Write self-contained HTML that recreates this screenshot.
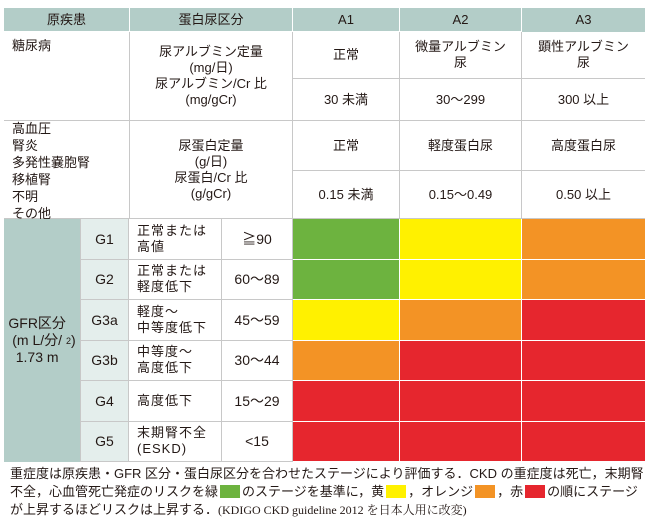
<!DOCTYPE html>
<html><head><meta charset="utf-8">
<style>
body{margin:0;width:647px;height:518px;background:#fff;font-family:"Liberation Sans","Noto Sans CJK JP",sans-serif;color:#231815;position:relative;overflow:hidden}
.c{position:absolute;box-sizing:border-box;display:flex;align-items:center;justify-content:center;text-align:center;font-size:13px;line-height:16px}
.l{justify-content:flex-start;text-align:left;padding-left:8px}
.hd{background:#b3cdc8;}
.gl{background:#e4eeec}
.b{border-right:1px solid #c8c8c8;border-bottom:1px solid #c8c8c8}
.foot{position:absolute;left:10px;top:465px;font-size:13px;line-height:18px;width:635px}
.sw{display:inline-block;width:20px;height:13px;vertical-align:-2px;margin:0 2px}
</style></head><body>
<div>
<div class="c hd b" style="left:4px;top:8px;width:126px;height:24px;border-color:#fff">原疾患</div>
<div class="c hd b" style="left:130px;top:8px;width:163px;height:24px;border-color:#fff">蛋白尿区分</div>
<div class="c hd b" style="left:293px;top:8px;width:107px;height:24px;border-color:#fff">A1</div>
<div class="c hd b" style="left:400px;top:8px;width:122px;height:24px;border-color:#fff">A2</div>
<div class="c hd" style="left:522px;top:8px;width:123px;height:24px">A3</div>

<div class="c l b" style="left:4px;top:32px;width:126px;height:89px;align-items:flex-start;padding-top:6px">糖尿病</div>
<div class="c b" style="left:130px;top:32px;width:163px;height:89px">尿アルブミン定量<br>(mg/日)<br>尿アルブミン/Cr 比<br>(mg/gCr)</div>
<div class="c b" style="left:293px;top:32px;width:107px;height:47px">正常</div>
<div class="c b" style="left:400px;top:32px;width:122px;height:47px">微量アルブミン<br>尿</div>
<div class="c" style="left:522px;top:32px;width:123px;height:47px;border-bottom:1px solid #c8c8c8">顕性アルブミン<br>尿</div>
<div class="c b" style="left:293px;top:79px;width:107px;height:42px">30 未満</div>
<div class="c b" style="left:400px;top:79px;width:122px;height:42px">30～299</div>
<div class="c" style="left:522px;top:79px;width:123px;height:42px;border-bottom:1px solid #c8c8c8">300 以上</div>

<div class="c l b" style="left:4px;top:121px;width:126px;height:98px;line-height:17px;padding-top:2px">高血圧<br>腎炎<br>多発性嚢胞腎<br>移植腎<br>不明<br>その他</div>
<div class="c b" style="left:130px;top:121px;width:163px;height:98px">尿蛋白定量<br>(g/日)<br>尿蛋白/Cr 比<br>(g/gCr)</div>
<div class="c b" style="left:293px;top:121px;width:107px;height:50px">正常</div>
<div class="c b" style="left:400px;top:121px;width:122px;height:50px">軽度蛋白尿</div>
<div class="c" style="left:522px;top:121px;width:123px;height:50px;border-bottom:1px solid #c8c8c8">高度蛋白尿</div>
<div class="c b" style="left:293px;top:171px;width:107px;height:48px">0.15 未満</div>
<div class="c b" style="left:400px;top:171px;width:122px;height:48px">0.15～0.49</div>
<div class="c" style="left:522px;top:171px;width:123px;height:48px;border-bottom:1px solid #c8c8c8">0.50 以上</div>

<div class="c hd" style="left:4px;top:219px;width:76px;height:243px;font-size:14px;line-height:17px">GFR区分<br>(m L/分/<br>1.73 m<sup style="font-size:9px;line-height:0">2</sup>)</div>
<div id="rows"></div>
</div>
<div class="foot">重症度は原疾患・GFR 区分・蛋白尿区分を合わせたステージにより評価する．CKD の重症度は死亡，末期腎不全，心血管死亡発症のリスクを緑<span class="sw" style="background:#6db33f"></span>のステージを基準に，黄<span class="sw" style="background:#fff100"></span>，オレンジ<span class="sw" style="background:#f39325"></span>，赤<span class="sw" style="background:#e6262e"></span>の順にステージが上昇するほどリスクは上昇する．<span style="font-family:'Liberation Serif','Noto Serif CJK SC',serif;font-size:12px">(KDIGO CKD guideline 2012 を日本人用に改変)</span></div>
<script>
const stages=["G1","G2","G3a","G3b","G4","G5"];
const descs=["正常または<br>高値","正常または<br>軽度低下","軽度～<br>中等度低下","中等度～<br>高度低下","高度低下","末期腎不全<br>(ESKD)"];
const ranges=["≧90","60～89","45～59","30～44","15～29","<15"];
const riskA1=[0,0,1,2,3,3];
const riskA2=[1,1,2,3,3,3];
const riskA3=[2,2,3,3,3,3];
const colors=["#6db33f","#fff100","#f39325","#e6262e"];
const R=document.getElementById('rows');
const top0=219,rh=40.5;
const colX=[293,400,522],colW=[107,122,123];
function cell(x,y,w,h,html,cls,bg){const d=document.createElement('div');d.className='c '+cls;d.style.cssText=`left:${x}px;top:${y}px;width:${w}px;height:${h}px;`+(bg?`background:${bg};`:'');d.innerHTML=html;R.appendChild(d);return d;}
stages.forEach((s,i)=>{
 const y=top0+i*rh;
 let d=cell(80,y,49,rh,s,'gl b','');
 d.style.borderLeft='1px solid #c8c8c8';d.style.fontSize='14px';
 
 
 d=cell(129,y,93,rh,descs[i],'l b','');
 d.style.letterSpacing='1px';
 
 
 d=cell(222,y,71,rh,ranges[i],'b','');
 d.style.fontSize='14px';
 
 
 [riskA1,riskA2,riskA3].forEach((arr,j)=>{
  const c=cell(colX[j],y,colW[j],rh,'','',colors[arr[i]]);
  c.style.borderRight=j<2?'1px solid #fff':'none';
  c.style.borderBottom='1px solid #fff';
  
  
 });
});
</script>
</body></html>
